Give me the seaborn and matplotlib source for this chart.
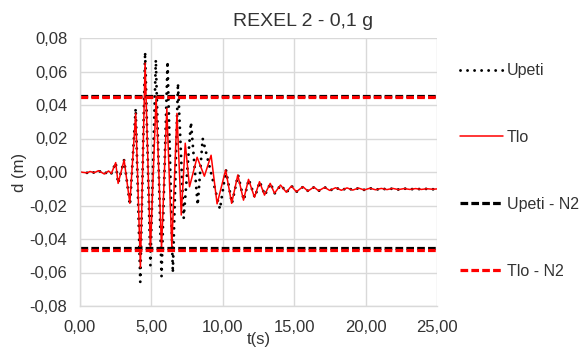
import numpy as np
import pandas as pd
import matplotlib
matplotlib.use('Agg')
import matplotlib.pyplot as plt
import seaborn as sns

# data (t in s, d in m)
t_tlo = [0.0, 0.5, 0.7, 1.0, 1.3, 1.7, 2.0, 2.2, 2.5, 2.67, 3.09, 3.49, 3.9, 4.23,
         4.56, 4.93, 5.33, 5.71, 6.08, 6.43, 6.79, 7.09, 7.37, 7.67, 8.2, 8.71, 9.18,
         9.6, 10.2, 10.62, 11.05, 11.45, 11.8, 12.22, 12.57, 12.92, 13.32, 13.62,
         14.04, 14.45, 14.8, 15.15, 15.61, 15.96, 16.38, 16.71, 17.13, 17.49, 17.9,
         18.3, 18.7, 19.1, 19.5, 19.9, 20.3, 20.7, 21.1, 21.5, 21.9, 22.3, 22.7,
         23.1, 23.5, 23.9, 24.3, 24.7, 25.0]
d_tlo = [0.0, -0.0005, 0.0003, -0.0004, 0.0008, -0.0012, 0.0006, -0.0008, 0.0056,
         -0.0068, 0.0072, -0.0187, 0.035, -0.057, 0.065, -0.0467, 0.045, -0.0457,
         0.038, -0.0447, 0.035, -0.0257, 0.0172, -0.0088, 0.0088, -0.0025, 0.010,
         -0.019, 0.0012, -0.0187, -0.0018, -0.0168, -0.0044, -0.0151, -0.0058,
         -0.0138, -0.0068, -0.0127, -0.0078, -0.0121, -0.0084, -0.0118, -0.0088,
         -0.0114, -0.0090, -0.0112, -0.0092, -0.0110, -0.0094, -0.0109, -0.0095,
         -0.0108, -0.0096, -0.0107, -0.0097, -0.0106, -0.0098, -0.0105, -0.0098,
         -0.0105, -0.0099, -0.0104, -0.0099, -0.0104, -0.0100, -0.0103, -0.0101]

t_upeti = [0.0, 0.5, 0.7, 1.0, 1.3, 1.7, 2.0, 2.2, 2.5, 2.67, 3.09, 3.5, 3.9, 4.22,
           4.56, 4.93, 5.31, 5.71, 6.13, 6.5, 6.86, 7.26, 7.77, 8.24, 8.59, 9.8,
           10.22, 10.64, 11.07, 11.47, 11.82, 12.24, 12.59, 12.94, 13.34, 13.64,
           14.06, 14.47, 14.82, 15.17, 15.63, 15.98, 16.4, 16.73, 17.15, 17.51,
           17.92, 18.32, 18.72, 19.12, 19.52, 19.92, 20.32, 20.72, 21.12, 21.52,
           21.92, 22.32, 22.72, 23.12, 23.52, 23.92, 24.32, 24.72, 25.0]
d_upeti = [0.0, -0.0005, 0.0003, -0.0004, 0.0008, -0.0012, 0.0006, -0.0008, 0.0056,
           -0.0068, 0.0072, -0.0197, 0.038, -0.0656, 0.0716, -0.0556, 0.067, -0.0622,
           0.066, -0.0602, 0.053, -0.0277, 0.0297, -0.0197, 0.020, -0.0222, 0.0012,
           -0.0187, -0.0018, -0.0168, -0.0044, -0.0151, -0.0058, -0.0138, -0.0068,
           -0.0127, -0.0078, -0.0121, -0.0084, -0.0118, -0.0088, -0.0114, -0.0090,
           -0.0112, -0.0092, -0.0110, -0.0094, -0.0109, -0.0095, -0.0108, -0.0096,
           -0.0107, -0.0097, -0.0106, -0.0098, -0.0105, -0.0098, -0.0105, -0.0099,
           -0.0104, -0.0099, -0.0104, -0.0100, -0.0103, -0.0101]

n2_upeti = [0.0456, -0.0453]
n2_tlo = [0.0447, -0.0463]

xticks = [0, 5, 10, 15, 20, 25]
xtick_labels = ['0,00', '5,00', '10,00', '15,00', '20,00', '25,00']
yticks = [-0.08, -0.06, -0.04, -0.02, 0.0, 0.02, 0.04, 0.06, 0.08]
ytick_labels = ['-0,08', '-0,06', '-0,04', '-0,02', '0,00', '0,02', '0,04', '0,06', '0,08']

sns.set_theme(style='whitegrid')
plt.rcParams['font.family'] = ['Liberation Sans', 'DejaVu Sans']

fig = plt.figure(figsize=(5.84, 3.47), dpi=100)
ax = fig.add_axes([80 / 584, 1 - 306 / 347, 357 / 584, 268 / 347])

df_up = pd.DataFrame({'t': t_upeti, 'd': d_upeti})
df_tl = pd.DataFrame({'t': t_tlo, 'd': d_tlo})

sns.lineplot(x='t', y='d', data=df_up, ax=ax, color='black', lw=2.1,
             label='Upeti')
ax.lines[-1].set_linestyle((0, (0.01, 2.4)))
ax.lines[-1].set_dash_capstyle('round')
sns.lineplot(x='t', y='d', data=df_tl, ax=ax, color='red', lw=1.1, label='Tlo')

for i, v in enumerate(n2_upeti):
    ax.axhline(v, color='black', lw=2.3, linestyle=(0, (2.4, 1.0)),
               label='Upeti - N2' if i == 0 else None)
for i, v in enumerate(n2_tlo):
    ax.axhline(v, color='red', lw=2.3, linestyle=(0, (2.4, 1.0)),
               label='Tlo - N2' if i == 0 else None)

ax.set_xlim(0, 25)
ax.set_ylim(-0.08, 0.08)
ax.set_xticks(xticks)
ax.set_xticklabels(xtick_labels)
ax.set_yticks(yticks)
ax.set_yticklabels(ytick_labels)
ax.tick_params(axis='both', length=0, labelsize=12, colors='#333333')
ax.tick_params(axis='x', pad=10)
ax.tick_params(axis='y', pad=9)
ax.grid(True, color='#d9d9d9', lw=1.0)
for s in ['top', 'right']:
    ax.spines[s].set_visible(False)
for s in ['left', 'bottom']:
    ax.spines[s].set_color('#d9d9d9')
    ax.spines[s].set_linewidth(1.0)

ax.set_xlabel('t(s)', fontsize=12, labelpad=-2, color='#333333')
ax.set_ylabel('d (m)', fontsize=12, labelpad=2, color='#333333')
fig.text(303 / 584, 1 - 21 / 347, 'REXEL 2 - 0,1 g', ha='center', va='center',
         fontsize=14, color='#333333')

handles, labels = ax.get_legend_handles_labels()
leg = ax.legend(handles, labels, loc='center left', bbox_to_anchor=(460 / 584, 1 - 171 / 347),
                bbox_transform=fig.transFigure, frameon=False, fontsize=11.5,
                labelspacing=3.25, handlelength=2.7, handletextpad=0.25,
                borderpad=0, borderaxespad=0)
for txt in leg.get_texts():
    txt.set_color('#333333')

fig.savefig('out.png', dpi=100)
